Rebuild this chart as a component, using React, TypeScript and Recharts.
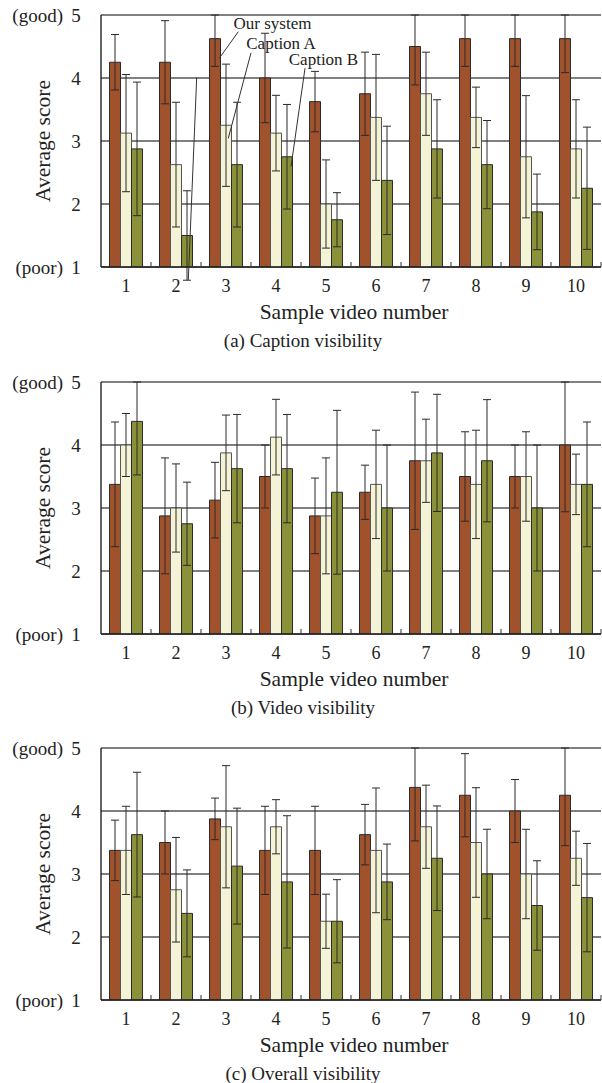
import React from "react";
import {
  BarChart, Bar, XAxis, YAxis, CartesianGrid, ErrorBar, ReferenceLine, ReferenceDot, ScatterChart,
} from "recharts";

// sample videos on the x axis
const videos = ["1", "2", "3", "4", "5", "6", "7", "8", "9", "10"];
const scoreTicks = [1, 2, 3, 4, 5];
const TOP_SCORE = 5;

// (a) caption visibility
const captionOurs = [4.25, 4.25, 4.625, 4.0, 3.625, 3.75, 4.5, 4.625, 4.625, 4.625];
const captionOursErr = [0.44, 0.66, 0.44, 0.71, 0.48, 0.66, 0.61, 0.44, 0.44, 0.54];
const captionA = [3.125, 2.625, 3.25, 3.125, 2.0, 3.375, 3.75, 3.375, 2.75, 2.875];
const captionAErr = [0.93, 0.99, 0.97, 0.6, 0.7, 1.0, 0.66, 0.48, 0.97, 0.78];
const captionB = [2.875, 1.5, 2.625, 2.75, 1.75, 2.375, 2.875, 2.625, 1.875, 2.25];
const captionBErr = [1.06, 0.71, 0.99, 0.83, 0.43, 0.86, 0.78, 0.7, 0.6, 0.97];

// (b) video visibility
const videoOurs = [3.375, 2.875, 3.125, 3.5, 2.875, 3.25, 3.75, 3.5, 3.5, 4.0];
const videoOursErr = [0.99, 0.92, 0.6, 0.5, 0.6, 0.43, 1.09, 0.71, 0.5, 1.06];
const videoA = [4.0, 3.0, 3.875, 4.125, 2.875, 3.375, 3.75, 3.375, 3.5, 3.375];
const videoAErr = [0.5, 0.7, 0.6, 0.6, 0.92, 0.86, 0.66, 0.86, 0.71, 0.48];
const videoB = [4.375, 2.75, 3.625, 3.625, 3.25, 3.0, 3.875, 3.75, 3.0, 3.375];
const videoBErr = [0.85, 0.66, 0.86, 0.86, 1.3, 1.0, 0.93, 0.97, 1.0, 0.99];

// (c) overall visibility
const overallOurs = [3.375, 3.5, 3.875, 3.375, 3.375, 3.625, 4.375, 4.25, 4.0, 4.25];
const overallOursErr = [0.48, 0.5, 0.33, 0.7, 0.7, 0.48, 0.85, 0.66, 0.5, 0.8];
const overallA = [3.375, 2.75, 3.75, 3.75, 2.25, 3.375, 3.75, 3.5, 3.0, 3.25];
const overallAErr = [0.7, 0.83, 0.97, 0.43, 0.43, 0.99, 0.66, 0.87, 0.71, 0.43];
const overallB = [3.625, 2.375, 3.125, 2.875, 2.25, 2.875, 3.25, 3.0, 2.5, 2.625];
const overallBErr = [0.99, 0.69, 0.92, 1.05, 0.66, 0.6, 0.83, 0.71, 0.71, 0.86];

// legend callouts in panel (a), in (video position 0..10, score) units
const calloutLabels = [
  { text: "Our system", x: 3.43, y: 4.87 },
  { text: "Caption A", x: 3.6, y: 4.55 },
  { text: "Caption B", x: 4.45, y: 4.3 },
];
const calloutLines = [
  { x1: 2.746, y1: 4.735, x2: 2.366, y2: 4.313 },
  { x1: 3.0, y1: 4.4, x2: 2.546, y2: 3.043 },
  { x1: 4.08, y1: 4.154, x2: 3.8, y2: 2.592 },
  { x1: 1.914, y1: 4.01, x2: 1.746, y2: 0.794 },
];

const FONT = '"Liberation Serif", "Times New Roman", serif';
const INK = "#222";
const OURS = "#A0522D";
const CAP_A = "#F5F3D6";
const CAP_B = "#8B9138";
const W = 602;
const H = 352;
const MARGIN = { top: 15, right: 1, bottom: 0, left: 0 };
const Y_W = 101;
const X_H = 85;
const PLOT_W = W - Y_W - MARGIN.right;
const BAND = PLOT_W / videos.length;

// error bars stop at the top of the rating scale
const bar = (mean: number, err: number) => [err, Math.min(err, TOP_SCORE - mean)];

const build = (ours: number[], oe: number[], a: number[], ae: number[], b: number[], be: number[]) =>
  videos.map((v, i) => ({
    video: v,
    ours: ours[i], oursErr: bar(ours[i], oe[i]),
    a: a[i], aErr: bar(a[i], ae[i]),
    b: b[i], bErr: bar(b[i], be[i]),
  }));

function XTick(props: any) {
  const { x, y, payload, index } = props;
  return (
    <g>
      <text x={x} y={y + 25} textAnchor="middle" fontSize={18} fontFamily={FONT} fill={INK}>
        {payload.value}
      </text>
      {index > 0 && <line x1={x - BAND / 2} y1={y} x2={x - BAND / 2} y2={y - 5} stroke="#333" />}
      {index === videos.length - 1 && <line x1={x + BAND / 2} y1={y} x2={x + BAND / 2} y2={y - 5} stroke="#333" />}
    </g>
  );
}

function YTick(props: any) {
  const { x, y, payload } = props;
  const v = payload.value;
  const side = v === 5 ? "(good)" : v === 1 ? "(poor)" : null;
  return (
    <g fontFamily={FONT} fontSize={19} fill={INK}>
      <text x={x - 25} y={y + 6.5} textAnchor="middle">{v}</text>
      {side && <text x={x - 38} y={y + 6.5} textAnchor="end">{side}</text>}
    </g>
  );
}

function XTitle(props: any) {
  const { viewBox, caption } = props;
  const { x, y, width } = viewBox;
  return (
    <g fontFamily={FONT} fill={INK}>
      <text x={x + width / 2 + 3} y={y + 52} textAnchor="middle" fontSize={21.5}>Sample video number</text>
      <text x={303} y={y + 80} textAnchor="middle" fontSize={19}>{caption}</text>
    </g>
  );
}

function YTitle(props: any) {
  const { viewBox } = props;
  const cy = viewBox.y + viewBox.height / 2;
  return (
    <text transform={`translate(43,${cy}) rotate(-90)`} textAnchor="middle" dominantBaseline="central"
      fontFamily={FONT} fontSize={21.5} fill={INK}>
      Average score
    </text>
  );
}

function CalloutText(props: any) {
  const { cx, cy, text } = props;
  return (
    <text x={cx} y={cy} textAnchor="middle" dominantBaseline="central" fontFamily={FONT} fontSize={17} fill={INK}>
      {text}
    </text>
  );
}

// leader lines + series names, drawn on a numeric overlay that shares the plot box
function Callouts() {
  return (
    <div style={{ position: "absolute", left: 0, top: 0, pointerEvents: "none" }}>
      <ScatterChart width={W} height={H}
        margin={{ top: MARGIN.top, right: MARGIN.right, bottom: X_H, left: Y_W }}>
        <XAxis type="number" dataKey="x" domain={[0, videos.length]} allowDataOverflow hide />
        <YAxis type="number" dataKey="y" domain={[1, 5]} allowDataOverflow hide />
        {calloutLines.map((l, i) => (
          <ReferenceLine key={"l" + i} ifOverflow="visible" stroke="#333" strokeWidth={1}
            segment={[{ x: l.x1, y: l.y1 }, { x: l.x2, y: l.y2 }]} />
        ))}
        {calloutLabels.map((c) => (
          <ReferenceDot key={c.text} x={c.x} y={c.y} r={0} ifOverflow="visible"
            shape={(p: any) => <CalloutText {...p} text={c.text} />} />
        ))}
      </ScatterChart>
    </div>
  );
}

function Panel({ top, data, caption, callouts }: { top: number; data: any[]; caption: string; callouts?: boolean }) {
  const err = { width: 4, stroke: "#2a2a2a", strokeWidth: 1 };
  return (
    <div style={{ position: "absolute", left: 0, top }}>
      <BarChart width={W} height={H} data={data} margin={MARGIN} barCategoryGap="17%" barGap={0}>
        <CartesianGrid vertical={false} stroke="#555" strokeWidth={1.3} />
        <XAxis dataKey="video" interval={0} tickLine={false} tickSize={0} tickMargin={0} height={X_H}
          axisLine={{ stroke: INK, strokeWidth: 1.4 }} tick={<XTick />} label={<XTitle caption={caption} />} />
        <YAxis domain={[1, 5]} ticks={scoreTicks} allowDataOverflow width={Y_W} tickLine={false} tickSize={0}
          tickMargin={0} axisLine={{ stroke: INK, strokeWidth: 1.4 }} tick={<YTick />} label={<YTitle />} />
        <Bar dataKey="ours" name="Our system" fill={OURS} stroke="#2a2a2a" strokeWidth={1} isAnimationActive={false}>
          <ErrorBar dataKey="oursErr" {...err} />
        </Bar>
        <Bar dataKey="a" name="Caption A" fill={CAP_A} stroke="#555" strokeWidth={1} isAnimationActive={false}>
          <ErrorBar dataKey="aErr" {...err} />
        </Bar>
        <Bar dataKey="b" name="Caption B" fill={CAP_B} stroke="#2a2a2a" strokeWidth={1} isAnimationActive={false}>
          <ErrorBar dataKey="bErr" {...err} />
        </Bar>
      </BarChart>
      {callouts && <Callouts />}
    </div>
  );
}

export default function App() {
  return (
    <div style={{ position: "absolute", left: 0, top: 0, width: W, height: 1083, background: "#fff" }}>
      <Panel top={0} caption="(a) Caption visibility" callouts
        data={build(captionOurs, captionOursErr, captionA, captionAErr, captionB, captionBErr)} />
      <Panel top={367} caption="(b) Video visibility"
        data={build(videoOurs, videoOursErr, videoA, videoAErr, videoB, videoBErr)} />
      <Panel top={733} caption="(c) Overall visibility"
        data={build(overallOurs, overallOursErr, overallA, overallAErr, overallB, overallBErr)} />
    </div>
  );
}
